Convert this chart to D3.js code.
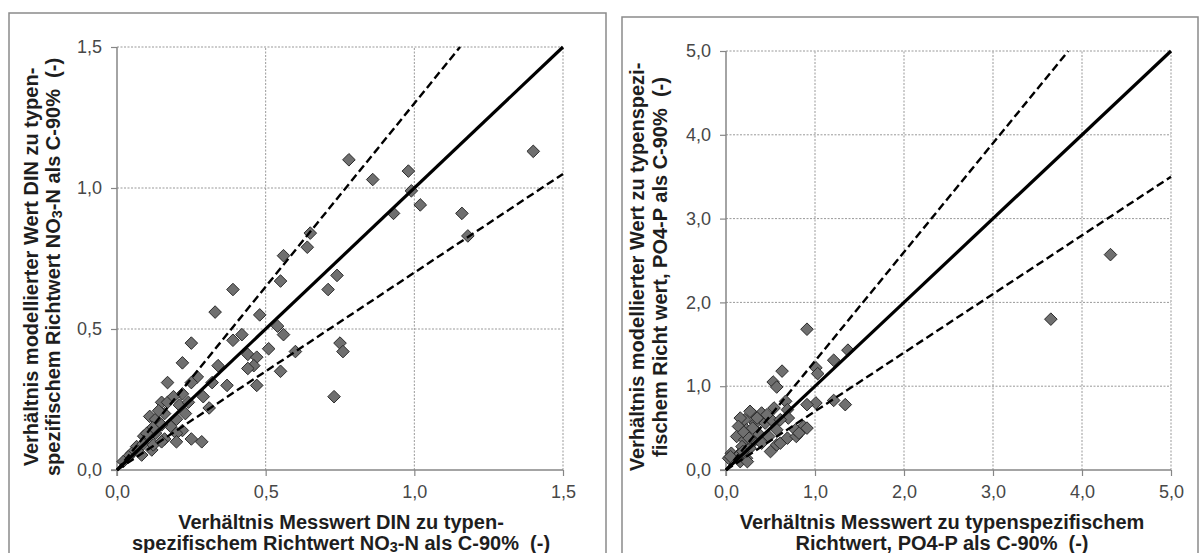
<!DOCTYPE html>
<html>
<head>
<meta charset="utf-8">
<script src="https://cdn.jsdelivr.net/npm/d3@7/dist/d3.min.js"></script>
<style>
  html, body { margin: 0; padding: 0; background: #ffffff; }
  svg { display: block; font-family: "Liberation Sans", Arial, sans-serif; }
  text { white-space: pre; }
</style>
</head>
<body>
<svg id="chart" width="1201" height="553"></svg>
<script>
// DIN: ratio measured / type-specific guide value (x) vs modelled / guide value (y)
const dinMeasured = [0.78,0.98,0.86,0.99,1.02,0.93,1.16,1.18,1.40,0.65,0.64,0.56,0.55,0.74,0.71,0.39,0.33,0.48,0.54,0.56,
  0.42,0.39,0.51,0.44,0.47,0.46,0.44,0.60,0.75,0.76,0.55,0.34,0.32,0.37,0.47,0.73,0.29,0.31,0.25,0.22,
  0.17,0.27,0.25,0.22,0.15,0.17,0.21,0.24,0.11,0.13,0.16,0.20,0.23,0.18,0.15,0.22,0.13,0.09,0.16,0.20,
  0.25,0.285,0.066,0.088,0.117,0.049,0.083,0.122,0.038,0.021,0.15,0.20,0.12,0.10,0.19,0.14];
const dinModelled = [1.10,1.06,1.03,0.99,0.94,0.91,0.91,0.83,1.13,0.84,0.79,0.76,0.67,0.69,0.64,0.64,0.56,0.55,0.51,0.48,
  0.48,0.46,0.43,0.41,0.40,0.37,0.36,0.42,0.45,0.42,0.35,0.37,0.31,0.30,0.30,0.26,0.26,0.22,0.45,0.38,
  0.31,0.33,0.31,0.27,0.24,0.24,0.23,0.24,0.19,0.18,0.20,0.18,0.20,0.155,0.16,0.14,0.13,0.12,0.11,0.13,
  0.11,0.10,0.083,0.092,0.071,0.059,0.053,0.089,0.047,0.030,0.10,0.10,0.15,0.13,0.26,0.21];

// PO4-P: same ratios for orthophosphate
const po4Measured = [4.32,3.65,0.91,1.37,1.21,1.01,1.03,0.63,0.53,0.57,1.21,1.34,1.01,0.91,0.67,0.69,0.54,0.40,0.31,0.21,
  0.16,0.27,0.33,0.44,0.51,0.57,0.14,0.23,0.36,0.48,0.12,0.21,0.31,0.40,0.18,0.27,0.06,0.14,0.23,0.03,
  0.16,0.50,0.57,0.61,0.69,0.79,0.83,0.87,0.78,0.82,0.91,0.70,0.61,0.24,0.13,0.05,0.20,0.26,0.35,0.46,
  0.19,0.30];
const po4Modelled = [2.57,1.80,1.68,1.43,1.31,1.22,1.15,1.18,1.05,0.99,0.83,0.78,0.80,0.78,0.82,0.72,0.74,0.68,0.66,0.60,
  0.62,0.70,0.56,0.56,0.60,0.48,0.52,0.48,0.44,0.40,0.40,0.36,0.34,0.32,0.28,0.26,0.20,0.18,0.14,0.14,
  0.10,0.22,0.30,0.32,0.38,0.40,0.45,0.52,0.48,0.44,0.50,0.62,0.60,0.10,0.16,0.16,0.45,0.38,0.62,0.66,
  0.22,0.50];

// Axis ticks
const dinTicks = [0, 0.5, 1.0, 1.5];
const po4Ticks = [0, 1, 2, 3, 4, 5];

// 1:1 line and ±30 % band
const refSlopes = [1, 1.3, 0.7];

// Axis titles (segments; sub = subscript)
const dinYTitle = [
  [{t: "Verhältnis modellierter Wert DIN zu typen-"}],
  [{t: "spezifischem Richtwert NO"}, {t: "3", sub: true}, {t: "-N als C-90%  (-)"}]
];
const dinXTitle = [
  [{t: "Verhältnis Messwert DIN zu typen-"}],
  [{t: "spezifischem Richtwert NO"}, {t: "3", sub: true}, {t: "-N als C-90%  (-)"}]
];
const po4YTitle = [
  [{t: "Verhältnis modellierter Wert zu typenspezi-"}],
  [{t: "fischem Richt wert, PO4-P als C-90%  (-)"}]
];
const po4XTitle = [
  [{t: "Verhältnis Messwert zu typenspezifischem"}],
  [{t: "Richtwert, PO4-P als C-90%  (-)"}]
];

const de = d3.formatLocale({decimal: ",", thousands: ".", grouping: [3], currency: ["", " €"]});
const fmt = de.format(".1f");

const svg = d3.select("#chart");

function writeLine(textSel, segments) {
  segments.forEach(s => {
    const ts = textSel.append("tspan").text(s.t);
    if (s.sub) ts.attr("baseline-shift", "-25%").attr("font-size", "72%");
  });
}

function drawPanel(o) {
  const g = svg.append("g");

  // chart area frame
  g.append("rect")
    .attr("x", o.frame[0]).attr("y", o.frame[1])
    .attr("width", o.frame[2]).attr("height", o.frame[3])
    .attr("fill", "#fff").attr("stroke", "#8a8a8a").attr("stroke-width", 1.5);

  const x = d3.scaleLinear().domain([0, o.max]).range([o.plot.left, o.plot.right]);
  const y = d3.scaleLinear().domain([0, o.max]).range([o.plot.bottom, o.plot.top]);

  // dotted gridlines
  const grid = g.append("g");
  grid.selectAll("line.v").data(o.ticks.slice(1)).join("line")
    .attr("x1", d => x(d)).attr("x2", d => x(d))
    .attr("y1", y(0)).attr("y2", y(o.max))
    .attr("stroke", "#999").attr("stroke-width", 1).attr("stroke-dasharray", "2,1.5");
  grid.selectAll("line.h").data(o.ticks.slice(1)).join("line")
    .attr("y1", d => y(d)).attr("y2", d => y(d))
    .attr("x1", x(0)).attr("x2", x(o.max))
    .attr("stroke", "#999").attr("stroke-width", 1).attr("stroke-dasharray", "2,1.5");

  // axes
  const xAxis = d3.axisBottom(x).tickValues(o.ticks).tickFormat(fmt).tickSize(6).tickPadding(9);
  const yAxis = d3.axisLeft(y).tickValues(o.ticks).tickFormat(fmt).tickSize(6).tickPadding(9);
  const gx = g.append("g").attr("transform", `translate(0,${y(0)})`).call(xAxis);
  const gy = g.append("g").attr("transform", `translate(${x(0)},0)`).call(yAxis);
  [gx, gy].forEach(a => {
    a.select(".domain").attr("stroke", "#868686").attr("stroke-width", 1.5);
    a.selectAll(".tick line").attr("stroke", "#868686").attr("stroke-width", 1.2);
    a.selectAll(".tick text").attr("fill", "#474747")
      .attr("font-size", 18).attr("font-family", "Liberation Sans, Arial, sans-serif");
  });
  gx.select(".domain").attr("d", `M${x(0) - 6},0H${x(o.max)}`);
  gy.select(".domain").attr("d", `M0,${y(0) + 6}V${y(o.max)}`);

  // markers
  const r = 6.3;
  const diamond = `M0,${-r}L${r},0L0,${r}L${-r},0Z`;
  g.append("g").selectAll("path").data(o.xs.map((v, i) => [v, o.ys[i]])).join("path")
    .attr("d", diamond)
    .attr("transform", d => `translate(${x(d[0])},${y(d[1])})`)
    .attr("fill", "#6f6f6f").attr("stroke", "#2b2b2b").attr("stroke-width", 1);

  // reference lines
  g.append("g").selectAll("line").data(refSlopes).join("line")
    .attr("x1", x(0)).attr("y1", y(0))
    .attr("x2", s => x(Math.min(o.max, o.max / s)))
    .attr("y2", s => y(s * Math.min(o.max, o.max / s)))
    .attr("stroke", "#000")
    .attr("stroke-width", s => s === 1 ? 3.2 : 2.4)
    .attr("stroke-dasharray", s => s === 1 ? null : "8,4");

  // y title (rotated, two lines)
  o.yTitle.forEach((line, i) => {
    const t = g.append("text")
      .attr("transform", `translate(${o.yTitleX[i]},${o.yTitleMid}) rotate(-90)`)
      .attr("text-anchor", "middle").attr("dominant-baseline", "central")
      .attr("font-size", 20).attr("font-weight", "bold").attr("fill", "#1e1e1e");
    writeLine(t, line);
  });
  // x title
  o.xTitle.forEach((line, i) => {
    const t = g.append("text")
      .attr("x", o.xTitleMid).attr("y", o.xTitleY[i])
      .attr("text-anchor", "middle").attr("dominant-baseline", "central")
      .attr("font-size", 20).attr("font-weight", "bold").attr("fill", "#1e1e1e");
    writeLine(t, line);
  });
}

drawPanel({
  frame: [9, 13, 597, 560],
  plot: {left: 117, right: 563, top: 47, bottom: 470},
  max: 1.5, ticks: dinTicks,
  xs: dinMeasured, ys: dinModelled,
  yTitle: dinYTitle, yTitleX: [31, 53], yTitleMid: 267,
  xTitle: dinXTitle, xTitleMid: 341, xTitleY: [522, 543]
});

drawPanel({
  frame: [622, 17, 576, 560],
  plot: {left: 726, right: 1171, top: 51, bottom: 470},
  max: 5, ticks: po4Ticks,
  xs: po4Measured, ys: po4Modelled,
  yTitle: po4YTitle, yTitleX: [637, 660], yTitleMid: 267,
  xTitle: po4XTitle, xTitleMid: 942, xTitleY: [522, 543]
});
</script>
</body>
</html>
